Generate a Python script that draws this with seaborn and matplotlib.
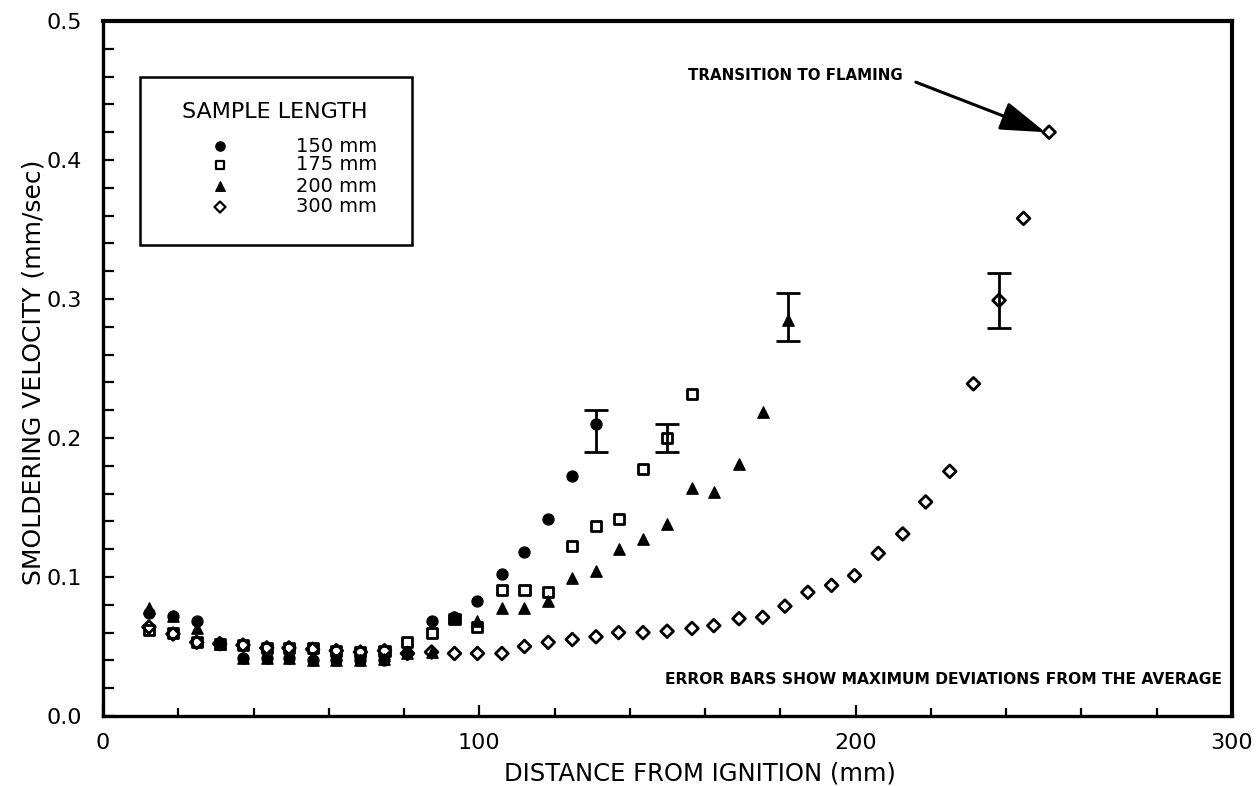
import matplotlib
matplotlib.use("Agg")
import matplotlib.pyplot as plt
import seaborn as sns
import pandas as pd
from matplotlib.patches import Rectangle
from matplotlib.ticker import MultipleLocator, FormatStrFormatter

# ---- data: smoldering velocity vs distance from ignition ----
x_150 = [12.2, 18.6, 24.9, 31.0, 37.2, 43.5, 49.4, 55.7, 62.0, 68.4, 74.8, 80.9,
         87.3, 93.4, 99.5, 106.0, 112.0, 118.3, 124.7, 131.0]
v_150 = [0.074, 0.072, 0.068, 0.0525, 0.042, 0.042, 0.042, 0.040, 0.040, 0.040, 0.040, 0.045,
         0.068, 0.071, 0.083, 0.102, 0.118, 0.142, 0.173, 0.210]

x_175 = [12.2, 18.6, 24.9, 31.0, 37.2, 43.5, 49.4, 55.7, 62.0, 68.4, 74.8, 80.9,
         87.3, 93.4, 99.5, 106.0, 112.0, 118.3, 124.7, 131.0, 137.0, 143.5, 149.9, 156.5]
v_175 = [0.062, 0.060, 0.053, 0.052, 0.051, 0.049, 0.049, 0.049, 0.047, 0.046, 0.047, 0.053,
         0.060, 0.070, 0.064, 0.091, 0.091, 0.089, 0.122, 0.137, 0.142, 0.178, 0.200, 0.232]

x_200 = [12.2, 18.6, 24.9, 31.0, 37.2, 43.5, 49.4, 55.7, 62.0, 68.4, 74.8, 80.9,
         87.3, 93.4, 99.5, 106.0, 112.0, 118.3, 124.7, 131.0, 137.0, 143.5, 149.9, 156.5,
         162.3, 169.0, 175.3, 182.0]
v_200 = [0.078, 0.072, 0.063, 0.052, 0.042, 0.042, 0.042, 0.040, 0.040, 0.040, 0.041, 0.045,
         0.046, 0.071, 0.068, 0.078, 0.078, 0.083, 0.099, 0.104, 0.120, 0.127, 0.138, 0.164,
         0.161, 0.181, 0.219, 0.285]

x_300 = [12.2, 18.6, 24.9, 31.0, 37.2, 43.5, 49.4, 55.7, 62.0, 68.4, 74.8, 80.9,
         87.3, 93.4, 99.5, 106.0, 112.0, 118.3, 124.7, 131.0, 137.0, 143.5, 149.9, 156.5,
         162.3, 169.0, 175.3, 181.2, 187.3, 193.6, 199.7, 206.0, 212.5, 218.6, 225.0, 231.3,
         238.1, 244.6, 251.4]
v_300 = [0.064, 0.059, 0.053, 0.052, 0.051, 0.049, 0.049, 0.048, 0.047, 0.046, 0.047, 0.045,
         0.046, 0.045, 0.045, 0.045, 0.050, 0.053, 0.055, 0.057, 0.060, 0.060, 0.061, 0.063,
         0.065, 0.070, 0.071, 0.079, 0.089, 0.094, 0.101, 0.117, 0.131, 0.154, 0.176, 0.239,
         0.299, 0.358, 0.420]

# maximum deviations from the average at selected points
err_x = [131.0, 149.9, 182.0, 238.1]
err_v = [0.210, 0.200, 0.285, 0.299]
err_lo = [0.020, 0.010, 0.015, 0.020]
err_hi = [0.010, 0.010, 0.019, 0.020]

series_labels = ["150 mm", "175 mm", "200 mm", "300 mm"]
legend_title = "SAMPLE LENGTH"
x_label = "DISTANCE FROM IGNITION (mm)"
y_label = "SMOLDERING VELOCITY (mm/sec)"
note_text = "ERROR BARS SHOW MAXIMUM DEVIATIONS FROM THE AVERAGE"
arrow_text = "TRANSITION TO FLAMING"

sns.set_theme(style="ticks")
plt.rcParams["font.family"] = ["DejaVu Sans"]
plt.rcParams["text.color"] = "black"
plt.rcParams["axes.labelcolor"] = "black"
plt.rcParams["xtick.color"] = "black"
plt.rcParams["ytick.color"] = "black"

fig = plt.figure(figsize=(12.58, 7.86), dpi=100)
W, H = 1258, 786
ax = fig.add_axes([103 / W, 1 - 716 / H, (1232 - 103) / W, (716 - 21) / H])

frames = []
for lab, xs, vs in zip(series_labels, [x_150, x_175, x_200, x_300], [v_150, v_175, v_200, v_300]):
    frames.append(pd.DataFrame({"distance": xs, "velocity": vs, "length": lab}))
df = pd.concat(frames, ignore_index=True)

styles = {
    "150 mm": dict(marker="o", s=62, facecolor="black", edgecolor="black", linewidth=1.0),
    "175 mm": dict(marker="s", s=52, facecolor="none", edgecolor="black", linewidth=2.0),
    "200 mm": dict(marker="^", s=66, facecolor="black", edgecolor="black", linewidth=1.0),
    "300 mm": dict(marker="D", s=42, facecolor="none", edgecolor="black", linewidth=2.0),
}
for lab in series_labels:
    sub = df[df["length"] == lab]
    st = styles[lab]
    sns.scatterplot(data=sub, x="distance", y="velocity", ax=ax, marker=st["marker"],
                    s=st["s"], facecolor=st["facecolor"], edgecolor=st["edgecolor"],
                    linewidth=st["linewidth"], legend=False, zorder=3)

ax.errorbar(err_x, err_v, yerr=[err_lo, err_hi], fmt="none", ecolor="black",
            elinewidth=2.0, capsize=8.5, capthick=2.0, zorder=2)

ax.set_xlim(0, 300)
ax.set_ylim(0, 0.5)
ax.xaxis.set_major_locator(MultipleLocator(100))
ax.xaxis.set_minor_locator(MultipleLocator(20))
ax.yaxis.set_major_locator(MultipleLocator(0.1))
ax.yaxis.set_minor_locator(MultipleLocator(0.02))
ax.xaxis.set_major_formatter(FormatStrFormatter("%d"))
ax.yaxis.set_major_formatter(FormatStrFormatter("%.1f"))

for sp in ax.spines.values():
    sp.set_visible(True)
    sp.set_linewidth(2.4)
    sp.set_color("black")
ax.spines["top"].set_linewidth(3.0)
ax.spines["right"].set_linewidth(3.0)

ax.tick_params(axis="both", which="both", direction="in", top=False, right=False,
               color="black", width=1.6)
ax.tick_params(axis="y", which="major", length=8, pad=15, labelsize=16)
ax.tick_params(axis="y", which="minor", length=8)
ax.tick_params(axis="x", which="major", length=8, pad=12, labelsize=16)
ax.tick_params(axis="x", which="minor", length=6)

ax.set_xlabel(x_label, fontsize=17.5)
ax.set_ylabel(y_label, fontsize=18)
ax.xaxis.set_label_coords((700 - 103) / 1129, -(761 - 716) / 695)
ax.yaxis.set_label_coords(-(103 - 46) / 1129, 0.495)
ax.grid(False)

# legend box
ax.add_patch(Rectangle((37 / 1129, (716 - 245) / 695), 272 / 1129, 168 / 695,
                       transform=ax.transAxes, fill=False, edgecolor="black",
                       linewidth=1.8, zorder=5))
ax.text((275 - 103) / 1129, (716 - 112) / 695, legend_title, transform=ax.transAxes,
        ha="center", va="center", fontsize=16, zorder=6)
row_y = [146, 165, 186, 207]
for lab, ry in zip(series_labels, row_y):
    st = styles[lab]
    yy = (716 - ry) / 695
    ax.scatter([(220 - 103) / 1129], [yy], transform=ax.transAxes, marker=st["marker"],
               s=st["s"] * 0.75, facecolor=st["facecolor"], edgecolor=st["edgecolor"],
               linewidth=st["linewidth"] * 0.8, zorder=6, clip_on=False)
    ax.text((296 - 103) / 1129, yy, lab, transform=ax.transAxes, ha="left",
            va="center", fontsize=14, zorder=6)

# annotations
ax.text(297.3, 0.0259, note_text, ha="right", va="center", fontsize=11.2,
        fontweight="bold", zorder=6)
ax.text(212.6, 0.461, arrow_text, ha="right", va="center", fontsize=10.8,
        fontweight="bold", zorder=6)
ax.annotate("", xy=(x_300[-1] - 1.0, v_300[-1]), xytext=(216.0, 0.456),
            arrowprops=dict(arrowstyle="-|>,head_length=1.4,head_width=0.45",
                            mutation_scale=20, lw=2.2, color="black",
                            shrinkA=0, shrinkB=0), zorder=6)

fig.savefig("out.png", dpi=100, facecolor="white")
